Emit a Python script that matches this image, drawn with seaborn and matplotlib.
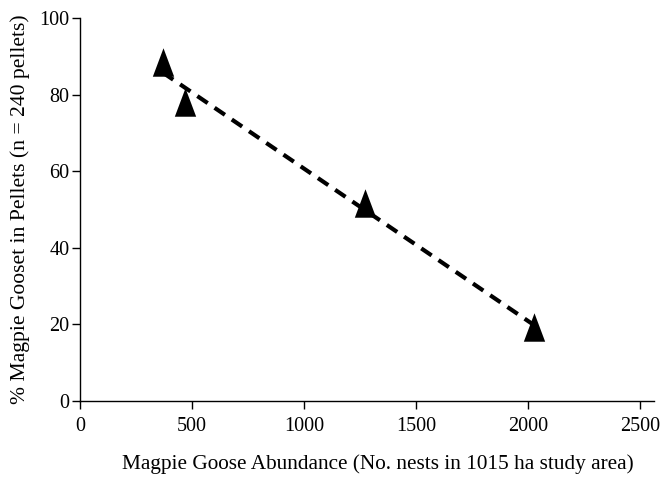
import matplotlib
matplotlib.use("Agg")
import matplotlib.pyplot as plt
import seaborn as sns
import pandas as pd
import numpy as np
from matplotlib.path import Path

abundance = [370, 470, 1270, 2025]
pct_goose = [88.5, 78, 51.6, 19.2]
xticks = [0, 500, 1000, 1500, 2000, 2500]
yticks = [0, 20, 40, 60, 80, 100]

df = pd.DataFrame({"x": abundance, "y": pct_goose})

sns.set_theme(style="ticks")
plt.rcParams['font.family'] = ['Liberation Serif', 'DejaVu Serif']

fig = plt.figure(figsize=(6.71, 4.84), dpi=100)
ax = fig.add_axes([80/671, 1-401/484, (654-80)/671, (401-18)/484])

tri = Path([(0, 1), (-0.75, -1), (0.75, -1), (0, 1)],
           [Path.MOVETO, Path.LINETO, Path.LINETO, Path.CLOSEPOLY])

sns.regplot(data=df, x="x", y="y", ci=None, scatter=False, ax=ax,
            line_kws=dict(color="black", linestyle=(0, (3, 2)), linewidth=3))
sns.scatterplot(data=df, x="x", y="y", marker=tri, s=420, color="black",
                edgecolor="black", linewidth=0, ax=ax, zorder=3)

ax.set_xlim(0, 2562)
ax.set_ylim(0, 100)
ax.set_xticks(xticks)
ax.set_yticks(yticks)
ax.tick_params(direction="out", length=5.5, width=1, labelsize=14.5, colors="black")
ax.tick_params(axis="y", pad=2)
ax.tick_params(axis="x", pad=6)
sns.despine(ax=ax)
for s in ["left", "bottom"]:
    ax.spines[s].set_color("black")
    ax.spines[s].set_linewidth(1)

ax.set_xlabel("Magpie Goose Abundance (No. nests in 1015 ha study area)", fontsize=15.3, labelpad=13, color="black")
ax.xaxis.label.set_x(0.519)
ax.set_ylabel("% Magpie Gooset in Pellets (n = 240 pellets)", fontsize=15.6, labelpad=7, color="black")

fig.savefig("out.png", dpi=100)
